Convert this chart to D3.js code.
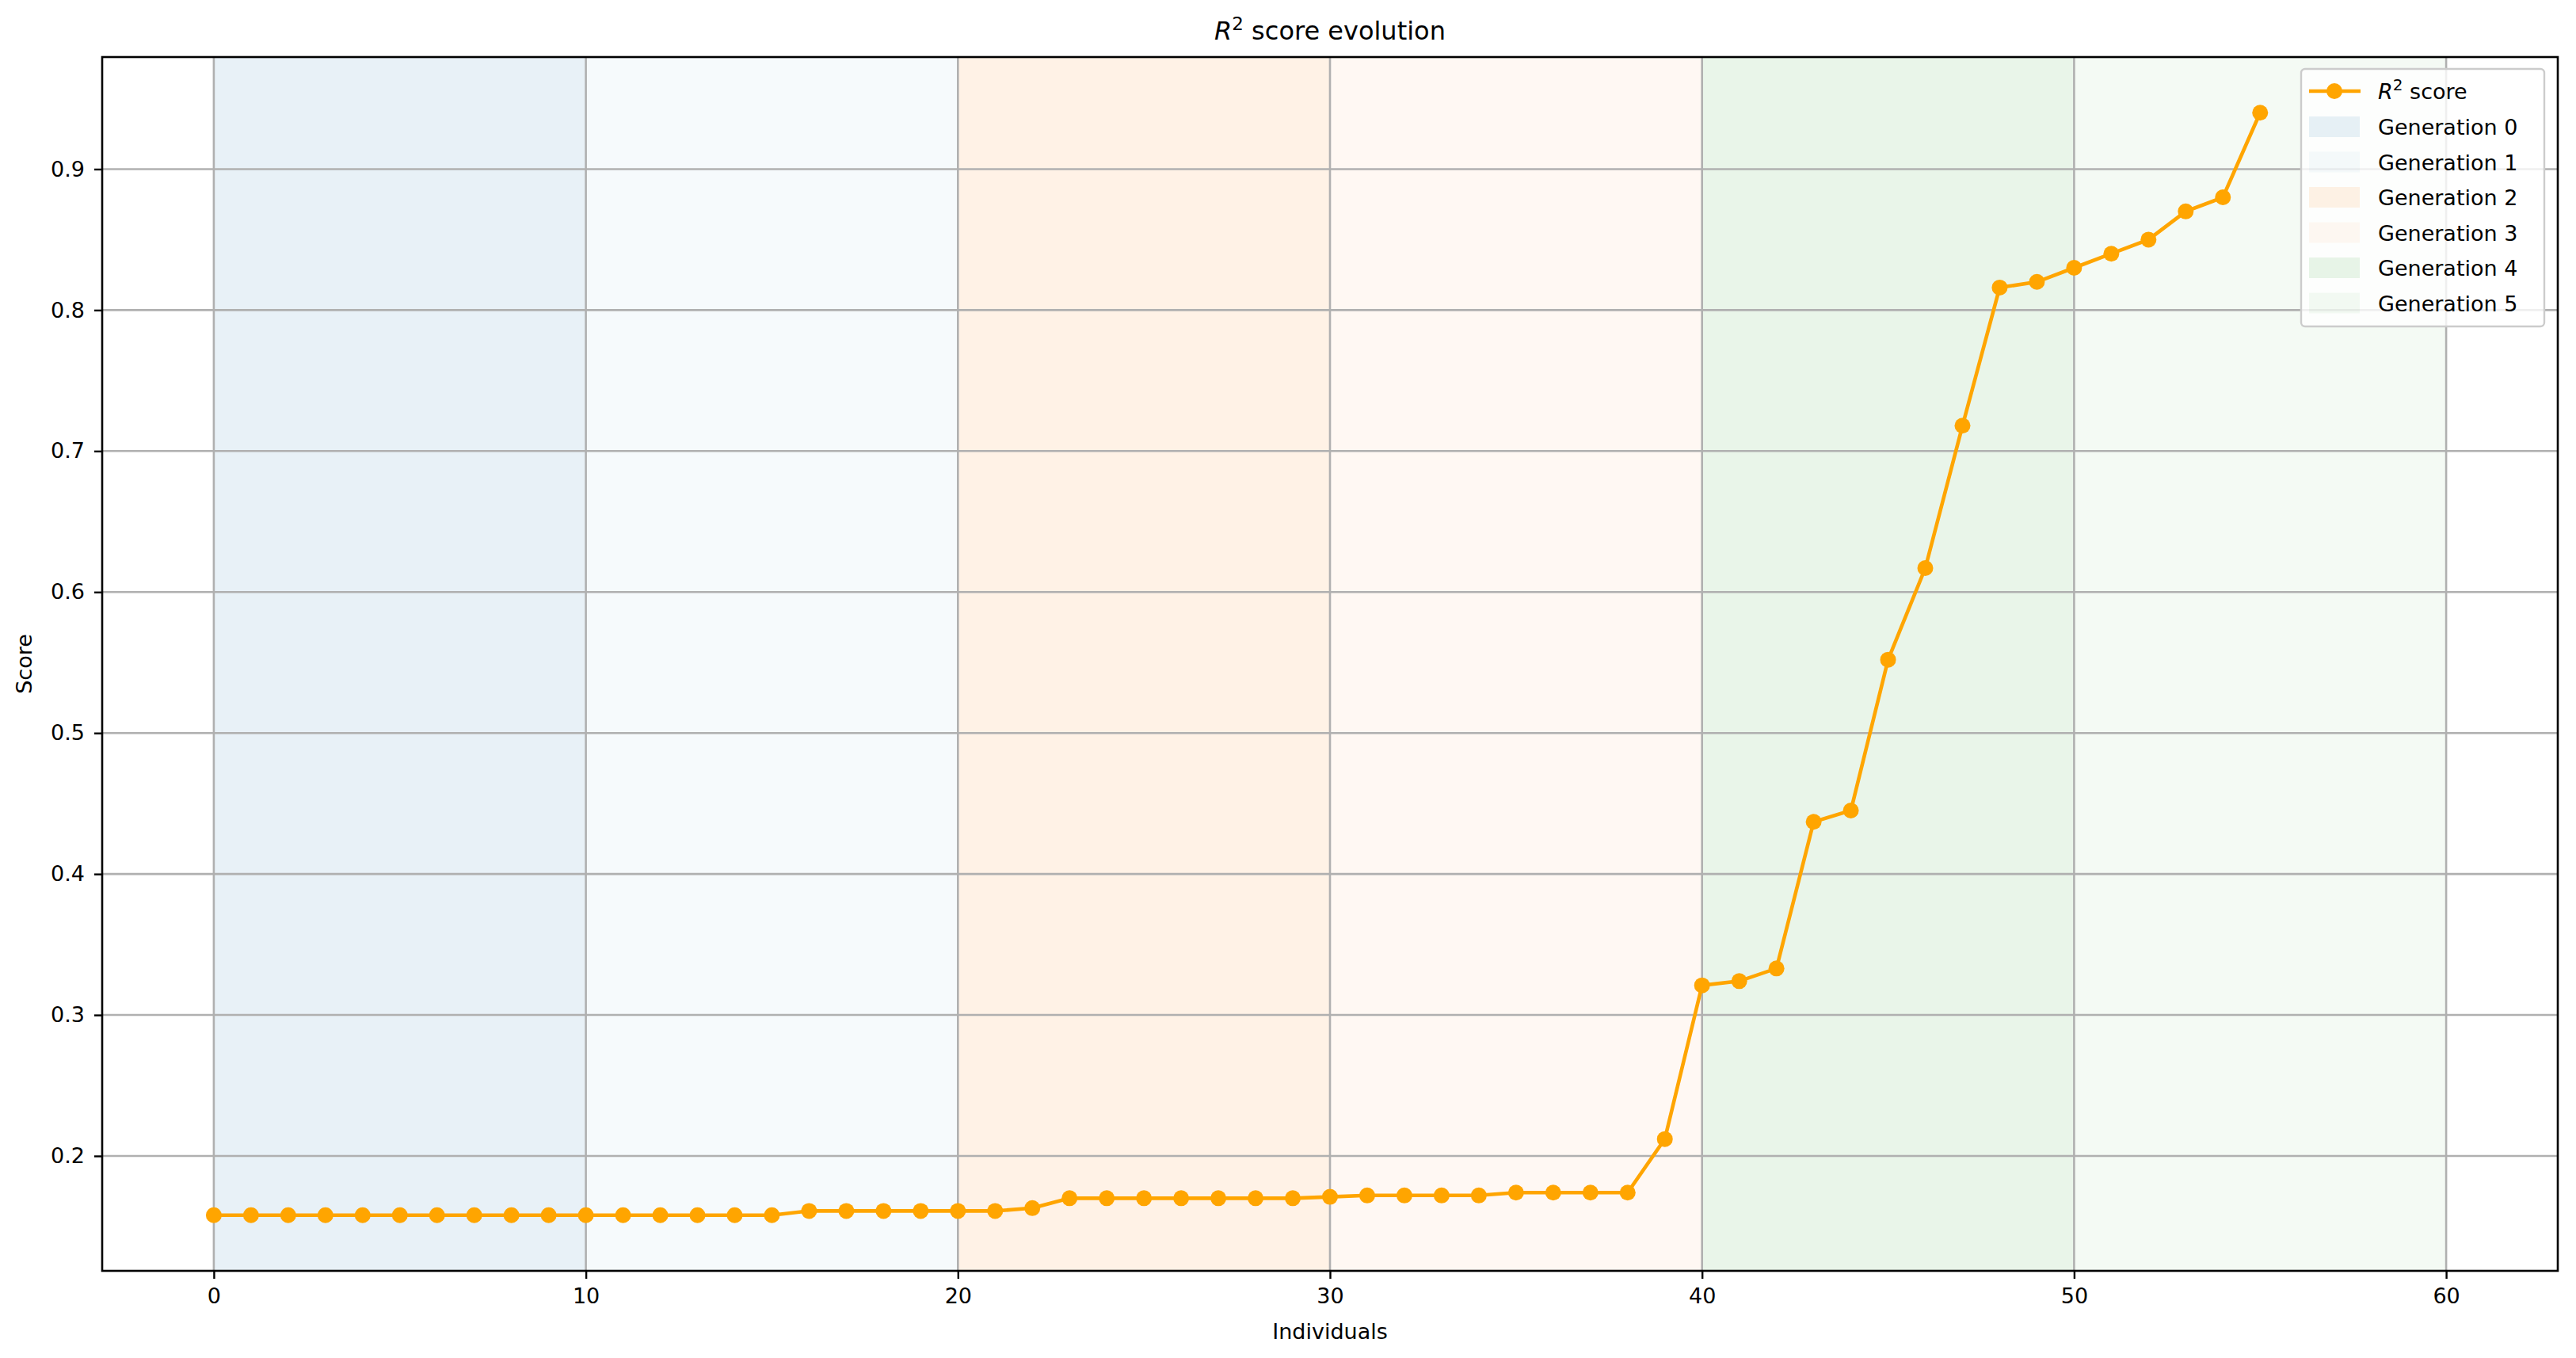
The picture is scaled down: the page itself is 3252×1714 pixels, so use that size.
<!DOCTYPE html>
<html>
<head>
<meta charset="UTF-8"/>
<style>body{margin:0;background:#fff} text{font-family:"DejaVu Sans",sans-serif}</style>
</head>
<body>
<svg width="3252" height="1714"></svg>
<script src="https://d3js.org/d3.v7.min.js"></script>
<script>
let individuals = d3.range(56);
let scores = [0.158,0.158,0.158,0.158,0.158,0.158,0.158,0.158,0.158,0.158,
              0.158,0.158,0.158,0.158,0.158,0.158,0.161,0.161,0.161,0.161,
              0.161,0.161,0.163,0.170,0.170,0.170,0.170,0.170,0.170,0.170,
              0.171,0.172,0.172,0.172,0.172,0.174,0.174,0.174,0.174,0.212,
              0.321,0.324,0.333,0.437,0.445,0.552,0.617,0.718,0.816,0.820,
              0.830,0.840,0.850,0.870,0.880,0.940];
let generations = ["Generation 0","Generation 1","Generation 2","Generation 3","Generation 4","Generation 5"];
let genStart = [0,10,20,30,40,50];
let genColors = ["rgba(31,119,180,0.1)","rgba(31,119,180,0.04)","rgba(255,127,14,0.1)","rgba(255,127,14,0.05)","rgba(44,160,44,0.1)","rgba(44,160,44,0.05)"];
let xTicks = [0,10,20,30,40,50,60];
let yTicks = [0.2,0.3,0.4,0.5,0.6,0.7,0.8,0.9];

let svg = d3.select("svg");
let L = 129, R = 3229, T = 72, B = 1604;
let x = d3.scaleLinear().domain([-3,63]).range([L,R]);
let y = d3.scaleLinear().domain([0.1185,0.9795]).range([B,T]);

svg.selectAll("rect.span").data(genStart).enter().append("rect")
  .attr("x", d => x(d)).attr("width", d => x(d+10)-x(d))
  .attr("y", T).attr("height", B-T)
  .attr("fill", (d,i) => genColors[i]);

let grid = svg.append("g").attr("stroke","#b0b0b0").attr("stroke-width",2.6);
xTicks.forEach(t => grid.append("line").attr("x1",x(t)).attr("x2",x(t)).attr("y1",T).attr("y2",B));
yTicks.forEach(t => grid.append("line").attr("x1",L).attr("x2",R).attr("y1",y(t)).attr("y2",y(t)));

let gx = svg.append("g").attr("transform",`translate(0,${B})`)
  .call(d3.axisBottom(x).tickValues(xTicks).tickSize(10).tickPadding(12).tickFormat(d3.format("d")));
let gy = svg.append("g").attr("transform",`translate(${L},0)`)
  .call(d3.axisLeft(y).tickValues(yTicks).tickSize(10).tickPadding(12).tickFormat(d3.format(".1f")));
[gx,gy].forEach(g => {
  g.select(".domain").remove();
  g.selectAll(".tick line").attr("stroke","#000").attr("stroke-width",2.4);
  g.selectAll("text").attr("font-size",27).attr("font-family","DejaVu Sans").attr("fill","#000");
});
svg.append("rect").attr("x",L).attr("y",T).attr("width",R-L).attr("height",B-T)
  .attr("fill","none").attr("stroke","#000").attr("stroke-width",2.6);

let line = d3.line().x((d,i) => x(individuals[i])).y(d => y(d));
svg.append("path").datum(scores).attr("d",line).attr("fill","none")
  .attr("stroke","#ffa500").attr("stroke-width",4.6);
svg.selectAll("circle.pt").data(scores).enter().append("circle")
  .attr("cx",(d,i) => x(individuals[i])).attr("cy",d => y(d)).attr("r",10).attr("fill","#ffa500");

svg.append("text").attr("x",(L+R)/2).attr("y",50).attr("text-anchor","middle").attr("font-size",32)
  .html('<tspan font-style="italic">R</tspan><tspan dy="-12" font-size="23">2</tspan><tspan dy="12"> score evolution</tspan>');
svg.append("text").attr("x",(L+R)/2).attr("y",1690).attr("text-anchor","middle").attr("font-size",27).text("Individuals");
svg.append("text").attr("transform",`translate(40,${(T+B)/2}) rotate(-90)`).attr("text-anchor","middle").attr("font-size",27).text("Score");

// legend
let lg = svg.append("g");
lg.append("rect").attr("x",2905).attr("y",87).attr("width",307).attr("height",325).attr("rx",5)
  .attr("fill","rgba(255,255,255,0.8)").attr("stroke","#ccc").attr("stroke-width",2.4);
lg.append("line").attr("x1",2915).attr("x2",2980).attr("y1",115).attr("y2",115).attr("stroke","#ffa500").attr("stroke-width",4.6);
lg.append("circle").attr("cx",2947).attr("cy",115).attr("r",10).attr("fill","#ffa500");
lg.append("text").attr("x",3002).attr("y",125).attr("font-size",27)
  .html('<tspan font-style="italic">R</tspan><tspan dy="-11" font-size="20">2</tspan><tspan dy="11"> score</tspan>');
generations.forEach((g,i) => {
  let cy = 160 + i*44.5;
  lg.append("rect").attr("x",2915).attr("y",cy-13).attr("width",64).attr("height",26).attr("fill",genColors[i]);
  lg.append("text").attr("x",3002).attr("y",cy+10).attr("font-size",27).text(g);
});
</script>
</body>
</html>
